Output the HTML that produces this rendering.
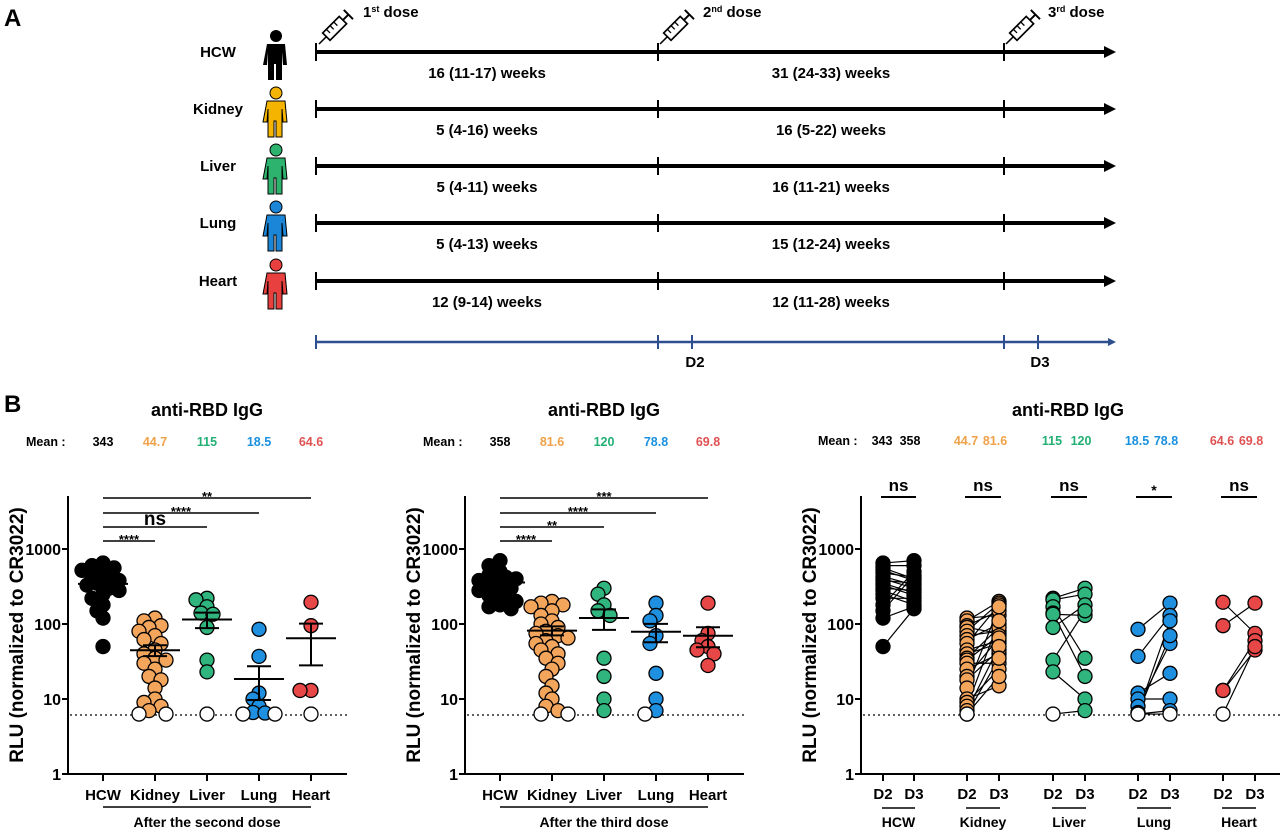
<!DOCTYPE html>
<html><head><meta charset="utf-8"><style>
html,body{margin:0;padding:0;background:#fff;}
svg{display:block;font-family:"Liberation Sans",Arial,sans-serif;font-weight:bold;}
</style></head><body>
<svg id="s" width="1280" height="832" viewBox="0 0 1280 832" xmlns="http://www.w3.org/2000/svg">
<rect width="1280" height="832" fill="#fff"/>
<text x="4" y="26" font-size="24">A</text>
<text x="4" y="412" font-size="24">B</text>
</svg>
<script>
var S=document.getElementById('s');var out='';
function A(s){out+=s;}
var C={k:'#000',o:'#f4a55c',g:'#2fb57d',b:'#1f8fe0',r:'#e84747'};
var T={k:'#000',o:'#f0a24a',g:'#22b074',b:'#1a90e0',r:'#e05252'};
var rows=[['HCW',52,'#000','16 (11-17) weeks','31 (24-33) weeks'],['Kidney',109,'#f5b400','5 (4-16) weeks','16 (5-22) weeks'],['Liver',166,'#2db36e','5 (4-11) weeks','16 (11-21) weeks'],['Lung',223,'#1b86d8','5 (4-13) weeks','15 (12-24) weeks'],['Heart',281,'#e8403e','12 (9-14) weeks','12 (11-28) weeks']];
rows.forEach(function(r){var y=r[1];
A('<text x="218" y="'+(y+5)+'" font-size="15" text-anchor="middle">'+r[0]+'</text>');
var px=276,c=r[2],st=(r[0]=='HCW')?'none':'#000';
A('<circle cx="'+px+'" cy="'+(y-16)+'" r="6" fill="'+c+'" stroke="'+st+'" stroke-width="1"/>');
A('<path d="M'+(px-9)+','+(y-8)+' h18 l2,21 h-4 l-1,-13 v28 h-6 v-16 h-2 v16 h-6 v-28 l-1,13 h-4 z" fill="'+c+'" stroke="'+st+'" stroke-width="1"/>');
A('<line x1="316" y1="'+y+'" x2="1108" y2="'+y+'" stroke="#000" stroke-width="4"/>');
A('<path d="M1104,'+(y-6)+' L1116,'+y+' L1104,'+(y+6)+'z" fill="#000"/>');
[316,658,1004].forEach(function(x){A('<line x1="'+x+'" y1="'+(y-9)+'" x2="'+x+'" y2="'+(y+9)+'" stroke="#000" stroke-width="2"/>');});
A('<text x="487" y="'+(y+26)+'" font-size="15" text-anchor="middle">'+r[3]+'</text>');
A('<text x="831" y="'+(y+26)+'" font-size="15" text-anchor="middle">'+r[4]+'</text>');
});
function syr(x,y){A('<g transform="translate('+x+','+y+') rotate(-45) scale(1.3)"><line x1="0" y1="0" x2="8" y2="0" stroke="#000" stroke-width="1.2"/><rect x="8" y="-4" width="18" height="8" fill="none" stroke="#000" stroke-width="1.3"/><line x1="26" y1="0" x2="32" y2="0" stroke="#000" stroke-width="1.5"/><line x1="32" y1="-5" x2="32" y2="5" stroke="#000" stroke-width="1.5"/><line x1="12" y1="-4" x2="12" y2="0" stroke="#000"/><line x1="16" y1="-4" x2="16" y2="0" stroke="#000"/><line x1="20" y1="-4" x2="20" y2="0" stroke="#000"/></g>');}
syr(319,44);syr(660,44);syr(1006,44);
A('<text x="363" y="17" font-size="15">1<tspan font-size="9" dy="-5">st</tspan><tspan dy="5"> dose</tspan></text>');
A('<text x="703" y="17" font-size="15">2<tspan font-size="9" dy="-5">nd</tspan><tspan dy="5"> dose</tspan></text>');
A('<text x="1048" y="17" font-size="15">3<tspan font-size="9" dy="-5">rd</tspan><tspan dy="5"> dose</tspan></text>');
A('<line x1="316" y1="342" x2="1110" y2="342" stroke="#2e4f8f" stroke-width="2.5"/><path d="M1108,338 L1116,342 L1108,346z" fill="#2e4f8f"/>');
[316,658,692,1004,1038].forEach(function(x){A('<line x1="'+x+'" y1="335" x2="'+x+'" y2="349" stroke="#2e4f8f" stroke-width="2"/>');});
A('<text x="695" y="367" font-size="15" text-anchor="middle">D2</text><text x="1040" y="367" font-size="15" text-anchor="middle">D3</text>');

function Y(v){return 774-75*Math.log10(v);}
function axes(ax,xend){
A('<line x1="'+ax+'" y1="496" x2="'+ax+'" y2="775" stroke="#000" stroke-width="2"/>');
A('<line x1="'+(ax-1)+'" y1="774" x2="'+xend+'" y2="774" stroke="#000" stroke-width="2"/>');
[[1,'1'],[10,'10'],[100,'100'],[1000,'1000']].forEach(function(t){var y=Y(t[0]);A('<line x1="'+(ax-6)+'" y1="'+y+'" x2="'+ax+'" y2="'+y+'" stroke="#000" stroke-width="2"/><text x="'+(ax-7)+'" y="'+(y+6)+'" font-size="16" text-anchor="end">'+t[1]+'</text>');});
A('<text transform="translate('+(ax-45)+',635) rotate(-90)" font-size="19" text-anchor="middle">RLU (normalized to CR3022)</text>');
A('<line x1="'+(ax+2)+'" y1="715" x2="'+xend+'" y2="715" stroke="#000" stroke-width="1.3" stroke-dasharray="2,3"/>');
}
function swarm(cx,vals){
var placed=[];var res=[];
vals.forEach(function(v){var y=Y(v);var offs=[0,-6,6,-11,11,-16,16,-21,21];var x=cx;
for(var i=0;i<offs.length;i++){var ok=true;x=cx+offs[i];for(var j=0;j<placed.length;j++){var dx=placed[j][0]-x,dy=placed[j][1]-y;if(dx*dx+dy*dy<64){ok=false;break;}}if(ok)break;}
placed.push([x,y]);res.push([x,y,v]);});
return res;}
function dots(pts,col){pts.forEach(function(p){var open=p[2]<=6.31;A('<circle cx="'+p[0]+'" cy="'+p[1]+'" r="7" fill="'+(open?'#fff':col)+'" stroke="#000" stroke-width="1.3"/>');});}
function meanbar(cx,vals,m){var n=vals.length,s=0;vals.forEach(function(v){s+=v;});var mean=m;var sd=0;vals.forEach(function(v){sd+=(v-s/n)*(v-s/n);});var sem=Math.sqrt(sd/(n-1))/Math.sqrt(n);
var lo=Math.max(mean-sem,1.1),hi=mean+sem;
A('<line x1="'+(cx-25)+'" y1="'+Y(mean)+'" x2="'+(cx+25)+'" y2="'+Y(mean)+'" stroke="#000" stroke-width="2"/>');
A('<line x1="'+cx+'" y1="'+Y(lo)+'" x2="'+cx+'" y2="'+Y(hi)+'" stroke="#000" stroke-width="2"/>');
A('<line x1="'+(cx-12)+'" y1="'+Y(lo)+'" x2="'+(cx+12)+'" y2="'+Y(lo)+'" stroke="#000" stroke-width="2"/><line x1="'+(cx-12)+'" y1="'+Y(hi)+'" x2="'+(cx+12)+'" y2="'+Y(hi)+'" stroke="#000" stroke-width="2"/>');}

var D2={k:[650,600,560,520,480,430,400,380,350,330,300,280,250,220,180,150,120,50],
o:[120,110,95,90,80,70,62,55,45,40,35,33,30,25,20,18,14,10,9,8,7,6.3,6.3],
g:[220,210,170,140,135,90,33,23,6.3],
b:[85,37,12,10,8,6.6,6.5,6.3,6.3],
r:[195,95,13,13,6.3]};
var D3={k:[700,600,500,450,420,400,380,350,330,300,280,260,240,220,200,180,170,160],
o:[200,190,180,170,150,130,110,100,90,80,75,70,65,60,55,50,45,40,35,30,25,20,15,12,10,8,7,6.3,6.3],
g:[300,250,180,150,130,35,20,10,7],
b:[190,130,110,70,55,22,10,7,6.3],
r:[190,75,60,50,45,40,28]};
var keys=['k','o','g','b','r'];var names=['HCW','Kidney','Liver','Lung','Heart'];
function panel(off,data,means,sigs,sub){
var ax=68+off,xs=[103,155,207,259,311].map(function(x){return x+off;});
A('<text x="'+(207+off)+'" y="416" font-size="18" text-anchor="middle">anti-RBD IgG</text>');
A('<text x="'+(26+off)+'" y="446" font-size="12.5">Mean :</text>');
keys.forEach(function(k,i){A('<text x="'+xs[i]+'" y="446" font-size="12.5" text-anchor="middle" fill="'+T[k]+'">'+means[i]+'</text>');});
axes(ax,347+off);
xs.forEach(function(x,i){A('<line x1="'+x+'" y1="774" x2="'+x+'" y2="781" stroke="#000" stroke-width="2"/><text x="'+x+'" y="800" font-size="15" text-anchor="middle">'+names[i]+'</text>');});
A('<line x1="'+xs[0]+'" y1="807" x2="'+xs[4]+'" y2="807" stroke="#000" stroke-width="1.5"/><text x="'+xs[2]+'" y="827" font-size="14" text-anchor="middle">'+sub+'</text>');
var ys=[498,513,527,541];
sigs.forEach(function(s,i){var x2=xs[4-i];A('<line x1="'+xs[0]+'" y1="'+ys[i]+'" x2="'+x2+'" y2="'+ys[i]+'" stroke="#000" stroke-width="1.5"/>');
if(s=='ns')A('<text x="'+((xs[0]+x2)/2)+'" y="'+(ys[i]-2)+'" font-size="19" text-anchor="middle">ns</text>');
else A('<text x="'+((xs[0]+x2)/2)+'" y="'+(ys[i]+3)+'" font-size="13" text-anchor="middle">'+s+'</text>');});
keys.forEach(function(k,i){var p=swarm(xs[i],data[k]);dots(p,C[k]);meanbar(xs[i],data[k],parseFloat(means[i]));});
}
panel(0,D2,['343','44.7','115','18.5','64.6'],['**','****','ns','****'],'After the second dose');
panel(397,D3,['358','81.6','120','78.8','69.8'],['***','****','**','****'],'After the third dose');
var ax=861;
A('<text x="1068" y="416" font-size="18" text-anchor="middle">anti-RBD IgG</text>');
A('<text x="818" y="445" font-size="12.5">Mean :</text>');
axes(ax,1280);
var pr=[[883,914],[967,999],[1053,1085],[1138,1170],[1223,1255]];
var mr=[['343','358'],['44.7','81.6'],['115','120'],['18.5','78.8'],['64.6','69.8']];
var sg=['ns','ns','ns','*','ns'];
keys.forEach(function(k,i){var a=pr[i][0],b=pr[i][1];
A('<text x="'+(a-1)+'" y="445" font-size="12.5" text-anchor="middle" fill="'+T[k]+'">'+mr[i][0]+'</text><text x="'+(b-4)+'" y="445" font-size="12.5" text-anchor="middle" fill="'+T[k]+'">'+mr[i][1]+'</text>');
[a,b].forEach(function(x,j){A('<line x1="'+x+'" y1="774" x2="'+x+'" y2="781" stroke="#000" stroke-width="2"/><text x="'+x+'" y="799" font-size="15" text-anchor="middle">'+(j?'D3':'D2')+'</text>');});
A('<line x1="'+(a-1)+'" y1="808" x2="'+(b+1)+'" y2="808" stroke="#000" stroke-width="1.5"/><text x="'+((a+b)/2)+'" y="827" font-size="14" text-anchor="middle">'+names[i]+'</text>');
A('<line x1="'+(a-2)+'" y1="497" x2="'+(b+2)+'" y2="497" stroke="#000" stroke-width="2"/>');
if(sg[i]=='ns')A('<text x="'+((a+b)/2)+'" y="491" font-size="17" text-anchor="middle">ns</text>');else A('<text x="'+((a+b)/2)+'" y="495" font-size="14" text-anchor="middle">*</text>');
var d2=D2[k].slice(),d3=D3[k].slice();
var n=Math.min(d2.length,d3.length);d2=d2.slice(0,n);d3=d3.slice(0,n);
var perm=d3.slice();
for(var q=0;q<n;q++){var r2=(q*7+3)%n;var t=perm[q];perm[q]=perm[r2];perm[r2]=t;}
for(var q=0;q<n;q++)A('<line x1="'+a+'" y1="'+Y(d2[q])+'" x2="'+b+'" y2="'+Y(perm[q])+'" stroke="#000" stroke-width="1.2"/>');
d2.forEach(function(v){A('<circle cx="'+a+'" cy="'+Y(v)+'" r="7" fill="'+(v<=6.31?'#fff':C[k])+'" stroke="#000" stroke-width="1.3"/>');});
perm.forEach(function(v){A('<circle cx="'+b+'" cy="'+Y(v)+'" r="7" fill="'+(v<=6.31?'#fff':C[k])+'" stroke="#000" stroke-width="1.3"/>');});
});
S.insertAdjacentHTML('beforeend',out);
</script>
</body></html>
